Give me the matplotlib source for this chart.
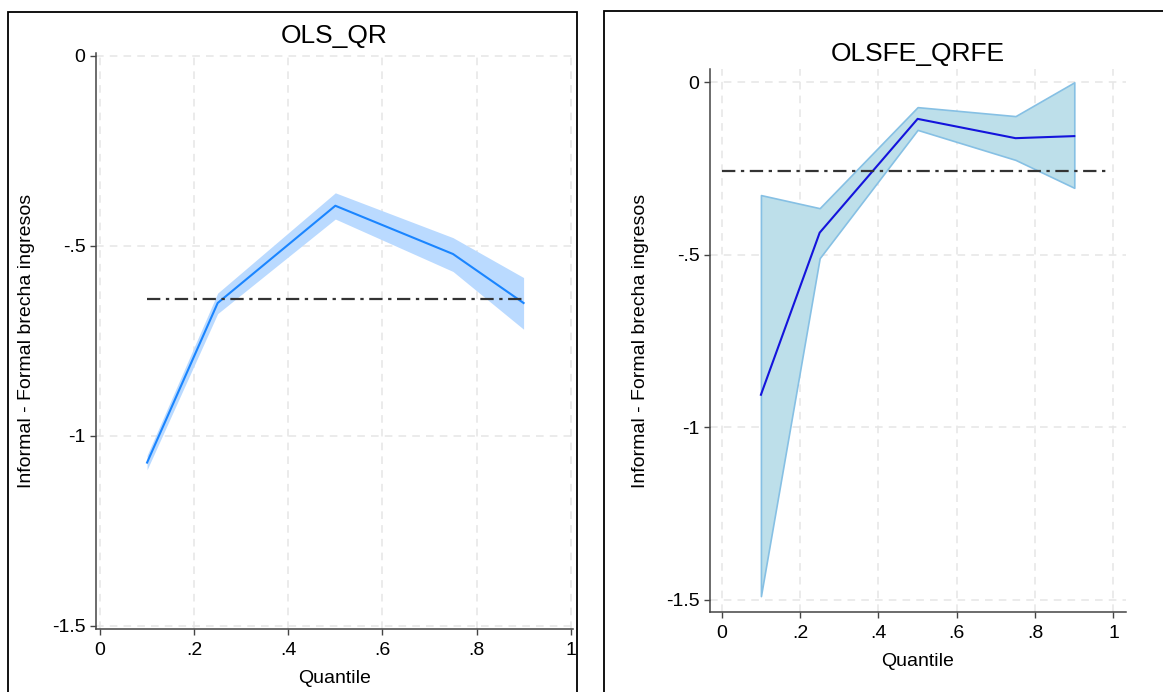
import matplotlib

matplotlib.use("Agg")
import matplotlib.pyplot as plt
from matplotlib.patches import Rectangle

plt.rcParams["font.family"] = ["Liberation Sans", "DejaVu Sans"]

# quantiles used in both panels
quantiles = [0.1, 0.25, 0.5, 0.75, 0.9]

# pooled OLS vs quantile regression
qr_coef = [-1.071, -0.651, -0.395, -0.522, -0.651]
qr_lower = [-1.09, -0.679, -0.43, -0.568, -0.72]
qr_upper = [-1.052, -0.625, -0.361, -0.479, -0.584]
ols_coef = -0.640
ols_span = [0.1, 0.9]

# fixed-effects OLS vs fixed-effects quantile regression
qrfe_coef = [-0.906, -0.436, -0.106, -0.162, -0.156]
qrfe_lower = [-1.49, -0.51, -0.138, -0.225, -0.306]
qrfe_upper = [-0.327, -0.365, -0.072, -0.098, 0.0]
olsfe_coef = -0.257
olsfe_span = [0.0, 0.99]

x_ticks = [0, 0.2, 0.4, 0.6, 0.8, 1]
x_ticklabels = ["0", ".2", ".4", ".6", ".8", "1"]
y_ticks = [0, -0.5, -1, -1.5]
y_ticklabels = ["0", "-.5", "-1", "-1.5"]

W, H = 1163, 692
fig = plt.figure(figsize=(W / 100, H / 100), dpi=100)


def px_axes(x0, y0, x1, y1):
    # pixel box (top-left origin) -> figure fraction
    return fig.add_axes([x0 / W, 1 - y1 / H, (x1 - x0) / W, (y1 - y0) / H])


def style_axes(ax, title, title_pad):
    ax.set_xticks(x_ticks)
    ax.set_xticklabels(x_ticklabels)
    ax.set_yticks(y_ticks)
    ax.set_yticklabels(y_ticklabels)
    ax.tick_params(labelsize=14, length=4.5, width=1.0, color="#444444", pad=3)
    ax.tick_params(axis="x", pad=5)
    for side in ("top", "right"):
        ax.spines[side].set_visible(False)
    for side in ("left", "bottom"):
        ax.spines[side].set_color("#444444")
        ax.spines[side].set_linewidth(1.1)
    ax.grid(True, color="#e6e6e6", linewidth=1.1, linestyle=(0, (5, 4)))
    ax.set_axisbelow(True)
    ax.set_title(title, fontsize=19, pad=title_pad)
    ax.set_xlabel("Quantile", fontsize=14, labelpad=8)
    ax.set_ylabel("Informal - Formal brecha ingresos", fontsize=14, labelpad=12)


# left panel
ax1 = px_axes(96, 53, 573, 629)
ax1.fill_between(quantiles, qr_lower, qr_upper, color="#badaff", linewidth=0, zorder=2)
ax1.plot(quantiles, qr_coef, color="#1a85ff", linewidth=1.5, zorder=3)
ax1.plot(ols_span, [ols_coef, ols_coef], color="#333333", linewidth=1.6,
         linestyle=(0, (6, 2.5, 1.5, 2.5)), zorder=4)
ax1.set_xlim(-0.0085, 1.005)
ax1.set_ylim(-1.509, 0.007)
style_axes(ax1, "OLS_QR", 7.5)

# right panel
ax2 = px_axes(710, 69, 1126, 612)
ax2.fill_between(quantiles, qrfe_lower, qrfe_upper, facecolor="#bddfea",
                 edgecolor="#86c0e4", linewidth=1.2, zorder=2)
ax2.plot(quantiles, qrfe_coef, color="#1414dc", linewidth=1.5, zorder=3)
ax2.plot(olsfe_span, [olsfe_coef, olsfe_coef], color="#333333", linewidth=1.6,
         linestyle=(0, (6, 2.5, 1.5, 2.5)), zorder=4)
ax2.set_xlim(-0.030, 1.032)
ax2.set_ylim(-1.536, 0.0386)
style_axes(ax2, "OLSFE_QRFE", 6)

# panel frames
fig.patches.append(Rectangle((8 / W, -0.05), (577 - 8) / W, 1.05 - 12 / H,
                             transform=fig.transFigure, fill=False,
                             edgecolor="black", linewidth=1.3))
fig.patches.append(Rectangle((604 / W, -0.05), 0.5, 1.05 - 11 / H,
                             transform=fig.transFigure, fill=False,
                             edgecolor="black", linewidth=1.3))

fig.savefig("out.png", dpi=100)
